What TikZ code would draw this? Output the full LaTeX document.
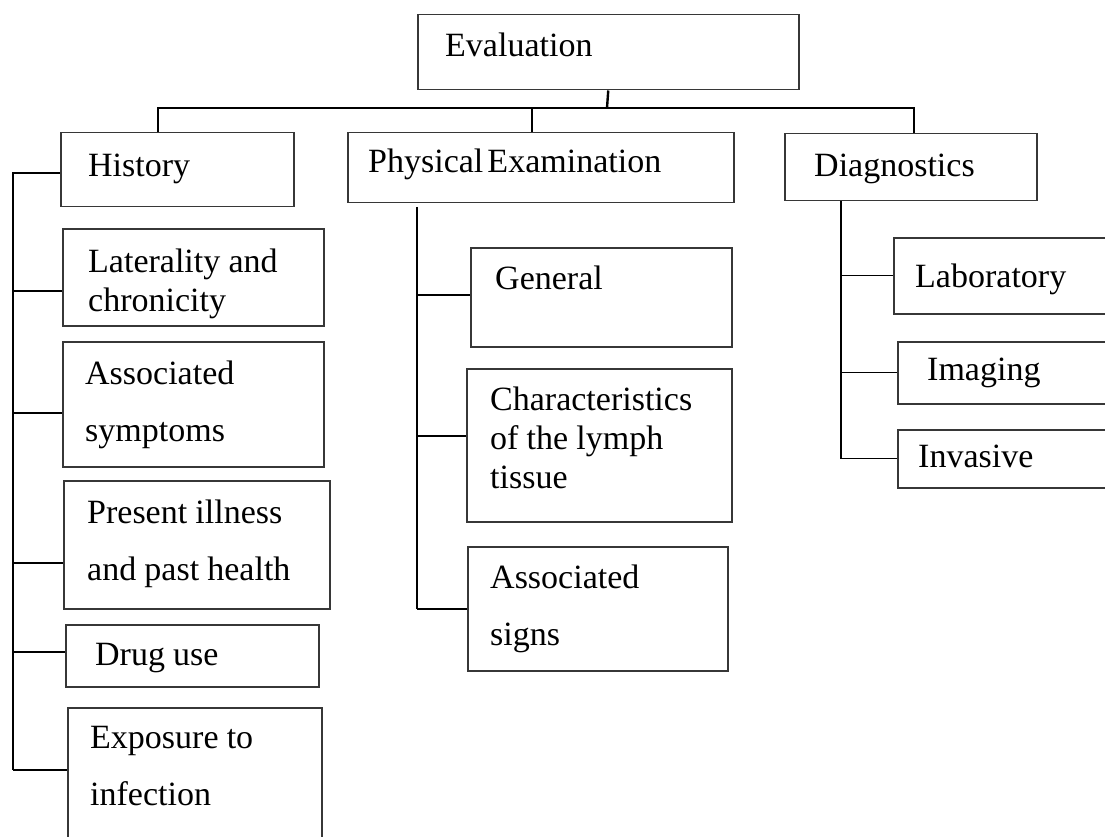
\documentclass[tikz,border=0pt]{standalone}
\usepackage{fontspec}
\setmainfont{Liberation Serif}
\usetikzlibrary{calc}
\tikzset{>=latex}
\definecolor{boxgray}{RGB}{55, 55, 55}
\newcommand{\tightspace}{\spaceskip=0.24em\relax}
\newcommand{\tighterspace}{\spaceskip=0.12em\relax}

\begin{document}
\begin{tikzpicture}[
    x = 1pt, y = -1pt,
    box/.style = {draw = boxgray, line width = 1.5, anchor = north west, inner sep = 0},
    lbl/.style = {anchor = base west, inner sep = 0, align = left, text width = 330,
                  font = \fontsize{34}{39}\selectfont, execute at begin node = \tightspace},
    wide/.style = {font = \fontsize{34}{57}\selectfont},
    d0/.style = {line width = 2.4},
    d1/.style = {line width = 1.4}
]
\useasboundingbox (0,0) rectangle (1105,837);
\clip (0,0) rectangle (1105,837);

% top level and the three branches
\node[box, minimum width = 381, minimum height = 75] (eval) at (417,14) {};
\node[box, minimum width = 233, minimum height = 74] (his) at (60,132) {};
\node[box, minimum width = 386, minimum height = 70] (pe) at (347,132) {};
\node[box, minimum width = 252, minimum height = 67] (diag) at (784,133) {};

% history
\node[box, minimum width = 261, minimum height = 97] (lat) at (62,228) {};
\node[box, minimum width = 261, minimum height = 125] (sym) at (62,341) {};
\node[box, minimum width = 266, minimum height = 128] (pres) at (63,480) {};
\node[box, minimum width = 253, minimum height = 62] (drug) at (65,624) {};
\node[box, minimum width = 254, minimum height = 160] (expo) at (67,707) {};

% physical examination
\node[box, minimum width = 261, minimum height = 99] (gen) at (470,247) {};
\node[box, minimum width = 265, minimum height = 153] (chr) at (466,368) {};
\node[box, minimum width = 260, minimum height = 124] (sig) at (467,546) {};

% diagnostics
\node[box, minimum width = 240, minimum height = 76] (lab) at (893,237) {};
\node[box, minimum width = 236, minimum height = 62] (img) at (897,341) {};
\node[box, minimum width = 236, minimum height = 58] (inv) at (897,429) {};

% texts
\node[lbl] (eval-t) at (445,57) {Evaluation};
\node[lbl] (his-t) at (88,177) {History};
\node[lbl, execute at begin node = \tighterspace] (pe-t) at (368,173) {Physical Examination};
\node[lbl] (diag-t) at (814,177) {Diagnostics};
\node[lbl] (lat-t) at (88,272) {Laterality and\\chronicity};
\node[lbl, wide] (sym-t) at (85,384) {Associated\\symptoms};
\node[lbl, wide] (pres-t) at (87,523) {Present illness\\and past health};
\node[lbl] (drug-t) at (95,665) {Drug use};
\node[lbl, wide] (expo-t) at (90,748) {Exposure to\\infection};
\node[lbl] (gen-t) at (495,289) {General};
\node[lbl] (chr-t) at (490,410) {Characteristics\\of the lymph\\tissue};
\node[lbl, wide] (sig-t) at (490,588) {Associated\\signs};
\node[lbl] (lab-t) at (915,287) {Laboratory};
\node[lbl] (img-t) at (927,380) {Imaging};
\node[lbl] (inv-t) at (918,467) {Invasive};

% bus under evaluation
\coordinate (bus) at (607,108);
\draw[d0] (eval.south) -- (bus);
\draw[d0] (his.north -| 158,0) |- (bus) -| (diag.north -| 914,0);
\draw[d0] (pe.north -| 532,0) -- (bus -| 532,0);

% history spine
\coordinate (hs) at (13,173);
\draw[d0] (his.west |- hs) -- (hs) -- (hs |- 0,770);
\foreach \n/\y in {lat/291, sym/413, pres/563, drug/652, expo/770}
    \draw[d1] (hs |- 0,\y) -- (\n.west |- 0,\y);

% physical examination spine
\coordinate (ps) at (417,207);
\draw[d0] (ps) -- (ps |- 0,609);
\foreach \n/\y in {gen/295, chr/436, sig/609}
    \draw[d1] (ps |- 0,\y) -- (\n.west |- 0,\y);

% diagnostics spine
\coordinate (ds) at (diag.south -| 841,0);
\draw[d0] (ds) -- (ds |- inv.west);
\foreach \n in {lab, img, inv}
    \draw[d1] (ds |- \n.west) -- (\n.west);

\end{tikzpicture}
\end{document}
